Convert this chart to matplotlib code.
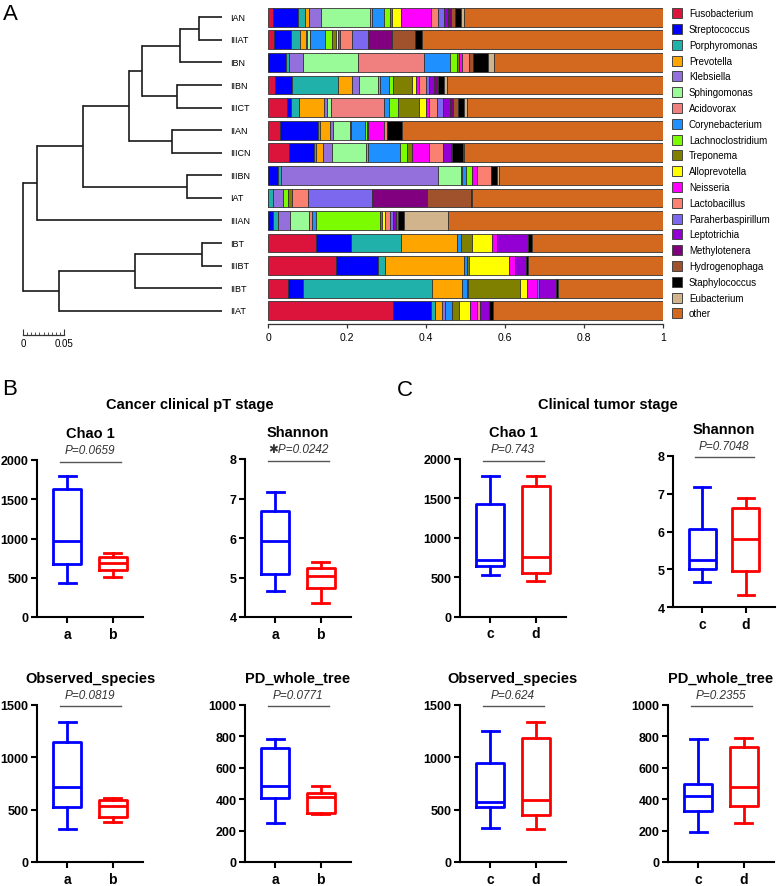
import matplotlib
matplotlib.use('Agg')
import matplotlib.pyplot as plt
from matplotlib.patches import Rectangle

plt.rcParams['font.family'] = ['Liberation Sans', 'DejaVu Sans']

# ---------------- data: panel A ----------------
samples = ['IAN', 'IIIAT', 'IBN', 'IIBN', 'IIICT', 'IIAN', 'IIICN',
           'IIIBN', 'IAT', 'IIIAN', 'IBT', 'IIIBT', 'IIBT', 'IIAT']
genera = ['Fusobacterium', 'Streptococcus', 'Porphyromonas', 'Prevotella',
          'Klebsiella', 'Sphingomonas', 'Acidovorax', 'Corynebacterium',
          'Lachnoclostridium', 'Treponema', 'Alloprevotella', 'Neisseria',
          'Lactobacillus', 'Paraherbaspirillum', 'Leptotrichia',
          'Methylotenera', 'Hydrogenophaga', 'Staphylococcus', 'Eubacterium',
          'other']
genus_colors = ['#DC143C', '#0000FF', '#20B2AA', '#FFA500', '#9370DB',
                '#98FB98', '#F08080', '#1E90FF', '#7CFC00', '#808000',
                '#FFFF00', '#FF00FF', '#FA8072', '#7B68EE', '#9400D3',
                '#800080', '#A0522D', '#000000', '#D2B48C', '#D2691E']

fusobacterium = [.013, .015, 0, .018, .047, .030, .053, 0, 0, 0, .121, .171, .049, .315]
streptococcus = [.061, .042, .046, .041, .010, .096, .063, .024, 0, .011, .088, .108, .040, .097]
porphyromonas = [.019, .024, .007, .118, .021, .005, .006, .007, .013, .014, .127, .016, .325, .010]
prevotella = [.009, .014, 0, .036, .062, .025, .017, 0, 0, 0, .141, .200, .078, .019]
klebsiella = [.031, .004, .034, .017, .008, .008, .022, .400, .025, .030, 0, 0, 0, .007]
sphingomonas = [.125, .007, .139, .048, .011, .042, .086, .056, 0, .048, 0, 0, 0, 0]
acidovorax = [.004, 0, .169, .005, .134, .003, .006, .004, 0, .008, 0, 0, 0, 0]
corynebacterium = [.031, .037, .065, .024, .014, .036, .080, .011, 0, .010, .011, .008, .011, .017]
lachnoclostridium = [.015, .018, .019, .010, .021, .004, .019, .014, .013, .163, 0, 0, .004, 0]
treponema = [.006, .010, .004, .046, .054, .004, .012, 0, .009, .004, .029, .006, .131, .019]
alloprevotella = [.023, .006, 0, .010, .017, 0, 0, 0, 0, .007, .049, .101, .017, .026]
neisseria = [.076, .005, .009, .008, .007, .040, .042, .013, 0, 0, .013, .014, .025, .019]
lactobacillus = [.017, .029, .017, .019, .021, .007, .036, .035, .040, .013, 0, 0, 0, .007]
paraherbaspirillum = [.015, .042, 0, .008, .015, 0, 0, 0, .163, .008, 0, 0, .006, 0]
leptotrichia = [.010, 0, 0, .011, .019, 0, .021, 0, 0, .007, .080, .028, .042, .023]
methylotenera = [.008, .061, 0, .008, .007, 0, 0, 0, .138, 0, 0, 0, 0, 0]
hydrogenophaga = [.009, .058, .010, .003, .013, 0, .003, 0, .112, .006, 0, 0, 0, 0]
staphylococcus = [.015, .017, .038, .015, .014, .039, .028, .015, .003, .014, .010, .006, .005, .010]
eubacterium = [.008, 0, .015, .007, .008, 0, .003, .006, 0, .112, 0, 0, 0, 0]
other = [.505, .611, .428, .548, .497, .661, .503, .415, .484, .549, .331, .342, .267, .431]

abundance = [fusobacterium, streptococcus, porphyromonas, prevotella,
             klebsiella, sphingomonas, acidovorax, corynebacterium,
             lachnoclostridium, treponema, alloprevotella, neisseria,
             lactobacillus, paraherbaspirillum, leptotrichia, methylotenera,
             hydrogenophaga, staphylococcus, eubacterium, other]

# dendrogram merges: (child a, child b, height); new node ids start at 14
merges = [(0, 1, 0.028), (14, 2, 0.051), (3, 4, 0.055), (15, 16, 0.098),
          (5, 6, 0.061), (17, 18, 0.113), (7, 8, 0.043), (19, 20, 0.170),
          (21, 9, 0.226), (10, 11, 0.024), (23, 12, 0.106), (24, 13, 0.199),
          (22, 25, 0.243)]
bar_ticks = [0, 0.2, 0.4, 0.6, 0.8, 1]
bar_ticklabels = ['0', '0.2', '0.4', '0.6', '0.8', '1']

# ---------------- data: panels B and C (whislo, q1, med, q3, whishi) ----------------
groups_B = ['a', 'b']
groups_C = ['c', 'd']
chao_a = [433, 680, 964, 1627, 1792]
chao_b = [510, 595, 693, 770, 810]
shannon_a = [4.67, 5.08, 5.92, 6.68, 7.16]
shannon_b = [4.35, 4.73, 5.03, 5.24, 5.39]
obs_a = [318, 527, 712, 1141, 1338]
obs_b = [384, 426, 537, 591, 613]
pd_a = [246, 407, 485, 725, 782]
pd_b = [305, 311, 411, 437, 481]
chao_c = [535, 642, 722, 1423, 1790]
chao_d = [451, 553, 757, 1661, 1790]
shannon_c = [4.67, 5.01, 5.25, 6.07, 7.17]
shannon_d = [4.33, 4.95, 5.80, 6.61, 6.88]
obs_c = [327, 521, 575, 947, 1252]
obs_d = [312, 451, 594, 1182, 1332]
pd_c = [193, 326, 418, 494, 782]
pd_d = [246, 358, 477, 733, 788]
p_values = {'B_chao': 'P=0.0659', 'B_shannon': '\u2731P=0.0242',
            'B_obs': 'P=0.0819', 'B_pd': 'P=0.0771',
            'C_chao': 'P=0.743', 'C_shannon': 'P=0.7048',
            'C_obs': 'P=0.624', 'C_pd': 'P=0.2355'}

# ---------------- figure ----------------
W, H = 777, 887
fig = plt.figure(figsize=(W / 100, H / 100), dpi=100)


def ax_px(x0, y0, x1, y1):
    return fig.add_axes([x0 / W, 1 - y1 / H, (x1 - x0) / W, (y1 - y0) / H])


def ftext(x, y, s, **kw):
    fig.text(x / W, 1 - y / H, s, **kw)


n = len(samples)
ylims = (n - 1 + 0.585, -0.5)

# stacked bars
axb = ax_px(268.3, 7, 663, 325)
left = [0.0] * n
for vals, col in zip(abundance, genus_colors):
    axb.barh(range(n), vals, left=left, height=0.83, color=col,
             edgecolor='#333333', linewidth=0.6)
    left = [l + v for l, v in zip(left, vals)]
axb.set_xlim(0, 1)
axb.set_ylim(*ylims)
axb.set_yticks([])
for s in ['top', 'right', 'left']:
    axb.spines[s].set_visible(False)
axb.spines['bottom'].set_color('#333333')
axb.spines['bottom'].set_linewidth(0.9)
axb.set_xticks(bar_ticks)
axb.set_xticklabels(bar_ticklabels, fontsize=7.5)
axb.tick_params(axis='x', length=3, width=0.9, color='#333333', pad=3)

# dendrogram
axd = ax_px(20, 7, 222, 325)
node_y = {i: float(i) for i in range(n)}
node_h = {i: 0.0 for i in range(n)}
for k, (a, b, h) in enumerate(merges):
    nid = n + k
    for c in (a, b):
        axd.plot([node_h[c], h], [node_y[c], node_y[c]], color='#1a1a1a', lw=1.2,
                 solid_capstyle='butt')
    axd.plot([h, h], [node_y[a], node_y[b]], color='#1a1a1a', lw=1.2,
             solid_capstyle='projecting')
    node_y[nid] = (node_y[a] + node_y[b]) / 2
    node_h[nid] = h
axd.set_xlim(202 / 820, 0)
axd.set_ylim(*ylims)
axd.axis('off')
for i, s in enumerate(samples):
    ftext(230, 18.3 + 22.58 * i, s, fontsize=6.5, va='center', ha='left')

# scale bar
axs = ax_px(23, 326, 64, 336)
axs.set_xlim(0, 0.05)
for s in ['top', 'right', 'left']:
    axs.spines[s].set_visible(False)
axs.spines['bottom'].set_linewidth(0.9)
axs.spines['bottom'].set_color('#333333')
axs.set_yticks([])
axs.set_xticks([0, 0.05])
axs.set_xticklabels(['0', '0.05'], fontsize=7)
axs.set_xticks([i * 0.005 for i in range(11)], minor=True)
axs.tick_params(axis='x', which='major', direction='in', length=4, width=0.8,
                color='#333333', pad=2)
axs.tick_params(axis='x', which='minor', direction='in', length=2.5, width=0.6,
                color='#333333')

# legend
axl = ax_px(668, 0, 777, 330)
axl.set_xlim(668, 777)
axl.set_ylim(330, 0)
axl.axis('off')
for i, (g, c) in enumerate(zip(genera, genus_colors)):
    yc = 14.3 + 15.79 * i
    axl.add_patch(Rectangle((672.5, yc - 5), 10, 10, facecolor=c,
                            edgecolor='#444444', linewidth=0.7))
    axl.text(689, yc, g, fontsize=7, va='center', ha='left')

# panel letters and section titles
ftext(3, 14, 'A', fontsize=16, va='center', ha='left')
ftext(2, 390, 'B', fontsize=16, va='center', ha='left')
ftext(397, 391, 'C', fontsize=16, va='center', ha='left')
ftext(190, 405, 'Cancer clinical pT stage', fontsize=10.5, fontweight='bold',
      ha='center', va='center')
ftext(608, 405, 'Clinical tumor stage', fontsize=10.5, fontweight='bold',
      ha='center', va='center')


def box_panel(rect, data, colors, groups, ylim, yticks, title, ptxt):
    ax = ax_px(*rect)
    for pos, (d, c) in enumerate(zip(data, colors), start=1):
        st = [{'whislo': d[0], 'q1': d[1], 'med': d[2], 'q3': d[3],
               'whishi': d[4], 'fliers': []}]
        pr = dict(color=c, linewidth=2.0)
        ax.bxp(st, positions=[pos], widths=0.62, capwidths=0.37,
               showfliers=False, manage_ticks=False,
               boxprops=pr, whiskerprops=pr, capprops=pr, medianprops=pr)
    ax.set_xlim(0.33, 2.67)
    ax.set_ylim(*ylim)
    ax.set_yticks(yticks)
    ax.set_yticklabels([str(t) for t in yticks], fontsize=9, fontweight='bold')
    ax.set_xticks([1, 2])
    ax.set_xticklabels(groups, fontsize=10, fontweight='bold')
    for s in ['top', 'right']:
        ax.spines[s].set_visible(False)
    for s in ['left', 'bottom']:
        ax.spines[s].set_linewidth(1.5)
    ax.tick_params(length=4, width=1.5, pad=2)
    ax.tick_params(axis='x', pad=3)
    ax.annotate(title, xy=(0.5, 1), xycoords='axes fraction', xytext=(0, 27),
                textcoords='offset pixels', ha='center', va='center',
                fontsize=10.5, fontweight='bold')
    ax.annotate(ptxt, xy=(0.5, 1), xycoords='axes fraction', xytext=(0, 10),
                textcoords='offset pixels', ha='center', va='center',
                fontsize=8.5, fontstyle='italic', color='#333333')
    ax.plot([0.83, 2.18], [0.99, 0.99], transform=ax.get_xaxis_transform(),
            color='#555555', lw=1.0, clip_on=False)
    return ax


blue, red = '#0000FF', '#FF0000'
box_panel((37, 461, 143, 618), [chao_a, chao_b], [blue, red], groups_B,
          (0, 2000), [0, 500, 1000, 1500, 2000], 'Chao 1', p_values['B_chao'])
box_panel((245, 460, 351, 618), [shannon_a, shannon_b], [blue, red], groups_B,
          (4, 8), [4, 5, 6, 7, 8], 'Shannon', p_values['B_shannon'])
box_panel((37, 705.7, 143, 863), [obs_a, obs_b], [blue, red], groups_B,
          (0, 1500), [0, 500, 1000, 1500], 'Observed_species', p_values['B_obs'])
box_panel((245, 705.7, 351, 863), [pd_a, pd_b], [blue, red], groups_B,
          (0, 1000), [0, 200, 400, 600, 800, 1000], 'PD_whole_tree', p_values['B_pd'])
box_panel((460, 460, 566, 617.7), [chao_c, chao_d], [blue, red], groups_C,
          (0, 2000), [0, 500, 1000, 1500, 2000], 'Chao 1', p_values['C_chao'])
box_panel((673, 456.7, 775, 608.3), [shannon_c, shannon_d], [blue, red], groups_C,
          (4, 8), [4, 5, 6, 7, 8], 'Shannon', p_values['C_shannon'])
box_panel((460, 705.7, 566, 863), [obs_c, obs_d], [blue, red], groups_C,
          (0, 1500), [0, 500, 1000, 1500], 'Observed_species', p_values['C_obs'])
box_panel((668, 705.7, 774, 863), [pd_c, pd_d], [blue, red], groups_C,
          (0, 1000), [0, 200, 400, 600, 800, 1000], 'PD_whole_tree', p_values['C_pd'])

fig.savefig('out.png', dpi=100)
